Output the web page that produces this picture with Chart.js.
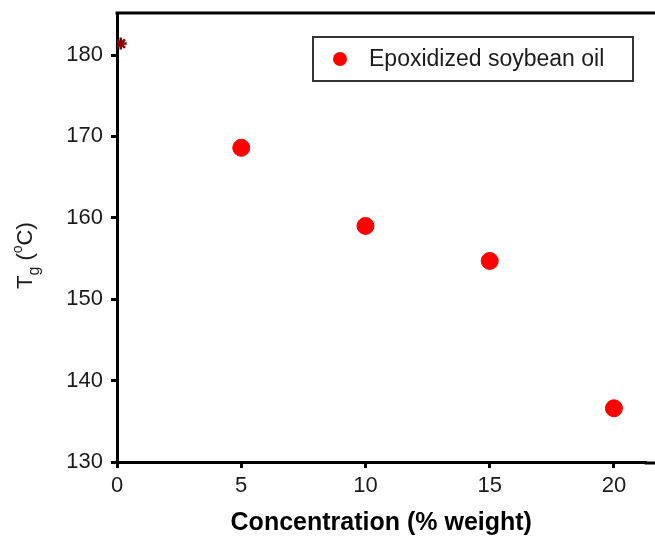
<!DOCTYPE html>
<html>
<head>
<meta charset="utf-8">
<script src="https://cdn.jsdelivr.net/npm/chart.js@4.4.0/dist/chart.umd.min.js"></script>
<style>
  html, body { margin: 0; padding: 0; background: #fff; overflow: hidden; }
  #wrap { width: 655px; height: 540px; position: relative; }
  canvas { display: block; }
</style>
</head>
<body>
<div id="wrap"><canvas id="Chart"></canvas></div>
<script>
// values
const concentration = [5, 10, 15, 20];
const tgValues = [168.6, 159.0, 154.7, 136.6];
const neatX = [0.15];
const neatTg = [181.4];
const seriesLabel = 'Epoxidized soybean oil';
const xTitle = 'Concentration (% weight)';

const FONT = '"Liberation Sans", Arial, sans-serif';
const INK = '#1b1b1b';

function noPad(s) {
    s.paddingLeft = 0;
    s.paddingRight = 0;
    s.paddingTop = 0;
    s.paddingBottom = 0;
}

// draws the top frame line, the legend box and the y title (needs sub/superscript)
const extras = {
    id: 'extras',
    afterDraw(chart) {
        const ctx = chart.ctx;
        const a = chart.chartArea;
        ctx.save();
        ctx.strokeStyle = '#000';
        ctx.lineWidth = 3;
        ctx.beginPath();
        ctx.moveTo(a.left - 1.5, a.top);
        ctx.lineTo(chart.width, a.top);
        // the plotted frame runs past the right edge of the picture
        ctx.moveTo(a.right - 1, a.bottom + 1);
        ctx.lineTo(chart.width, a.bottom + 1);
        ctx.stroke();

        // legend
        ctx.lineWidth = 2;
        ctx.strokeStyle = '#333';
        ctx.strokeRect(313, 37, 320, 44);
        ctx.fillStyle = 'red';
        ctx.beginPath();
        ctx.arc(340, 59, 7, 0, Math.PI * 2);
        ctx.fill();
        ctx.fillStyle = INK;
        ctx.font = '23px ' + FONT;
        ctx.textBaseline = 'middle';
        ctx.fillText(chart.data.datasets[0].label, 369, 60);

        // y title: T_g (°C)
        ctx.translate(32, 289);
        ctx.rotate(-Math.PI / 2);
        ctx.textBaseline = 'alphabetic';
        let x = 0;
        ctx.font = '22px ' + FONT;
        ctx.fillText('T', x, 0);
        x += ctx.measureText('T').width;
        ctx.font = '16px ' + FONT;
        ctx.fillText('g', x, 7);
        x += ctx.measureText('g').width;
        ctx.font = '22px ' + FONT;
        ctx.fillText(' (', x, 0);
        x += ctx.measureText(' (').width;
        ctx.font = '14px ' + FONT;
        ctx.fillText('o', x, -10);
        x += ctx.measureText('o').width;
        ctx.font = '22px ' + FONT;
        ctx.fillText('C)', x, 0);
        ctx.restore();
    }
};

const ctx = document.getElementById('Chart').getContext('2d');
const myChart = new Chart(ctx, {
    type: 'scatter',
    data: {
        datasets: [
            {
                label: seriesLabel,
                data: concentration.map((c, i) => ({ x: c, y: tgValues[i] })),
                backgroundColor: 'red',
                borderColor: 'red',
                pointRadius: 8.5,
                pointHoverRadius: 8.5
            },
            {
                label: 'neat',
                data: neatX.map((c, i) => ({ x: c, y: neatTg[i] })),
                pointStyle: 'star',
                backgroundColor: '#8b0000',
                borderColor: '#8b0000',
                borderWidth: 2.5,
                pointRadius: 6,
                pointHoverRadius: 6
            }
        ]
    },
    options: {
        responsive: true,
        maintainAspectRatio: false,
        animation: false,
        layout: { padding: { top: 13, right: 0, left: 0, bottom: 0 } },
        plugins: {
            legend: { display: false },
            tooltip: { enabled: false }
        },
        scales: {
            x: {
                type: 'linear',
                min: 0,
                max: 21.27,
                afterFit: s => { s.height = 78; noPad(s); },
                ticks: {
                    stepSize: 5,
                    includeBounds: false,
                    color: INK,
                    padding: 5,
                    font: { family: FONT, size: 22 }
                },
                grid: {
                    drawOnChartArea: false,
                    drawTicks: true,
                    tickLength: 6,
                    lineWidth: 3,
                    color: '#000'
                },
                border: { display: true, width: 3, color: '#000' },
                title: {
                    display: true,
                    text: xTitle,
                    color: '#000',
                    padding: { top: 0, bottom: 2 },
                    font: { family: FONT, size: 25, weight: 'bold' }
                }
            },
            y: {
                min: 130,
                max: 185.16,
                afterFit: s => { s.width = 117; noPad(s); },
                ticks: {
                    stepSize: 10,
                    includeBounds: false,
                    color: INK,
                    padding: 8,
                    font: { family: FONT, size: 22 }
                },
                grid: {
                    drawOnChartArea: false,
                    drawTicks: true,
                    tickLength: 6,
                    lineWidth: 3,
                    color: '#000'
                },
                border: { display: true, width: 3, color: '#000' }
            }
        }
    },
    plugins: [extras]
});
</script>
</body>
</html>
